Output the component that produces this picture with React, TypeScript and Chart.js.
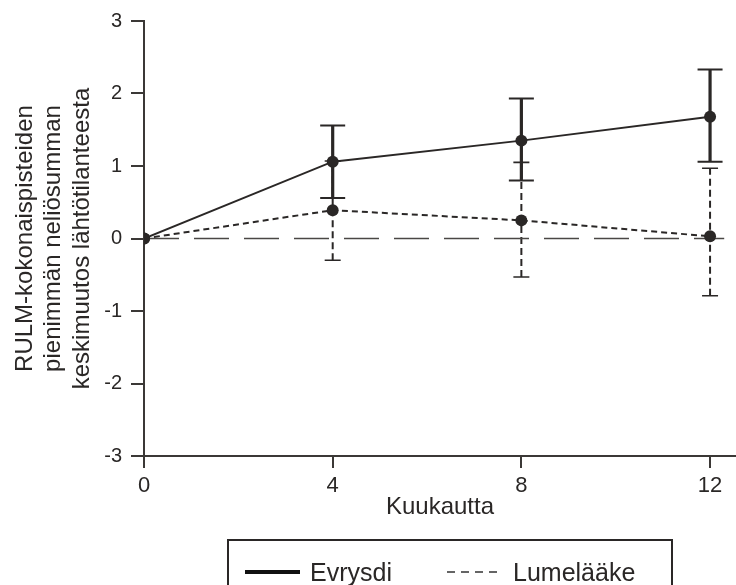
import React, { useEffect, useRef } from "react";
import { Chart, registerables } from "chart.js";

Chart.register(...registerables);

const months = [0, 4, 8, 12];
const evrysdiMean = [0, 1.06, 1.35, 1.68];
const evrysdiLower = [null, 0.56, 0.8, 1.06];
const evrysdiUpper = [null, 1.56, 1.93, 2.33];
const placeboMean = [0, 0.39, 0.25, 0.03];
const placeboLower = [null, -0.3, -0.53, -0.79];
const placeboUpper = [null, 1.07, 1.05, 0.97];
const xTicks = [0, 4, 8, 12];
const baselineX = [0, 12.3];
const baselineY = [0, 0];
const yTitle = ["RULM-kokonaispisteiden", "pienimmän neliösumman", "keskimuutos lähtötilanteesta"];
const xTitle = "Kuukautta";
const seriesNames = ["Evrysdi", "Lumelääke"];

const FONT = "'Liberation Sans', Arial, sans-serif";
const INK = "#2a2726";
const AXIS = "#3b3836";

const errorBarPlugin = {
  id: "errorBars",
  beforeDatasetsDraw(chart: any) {
    const { ctx, scales } = chart;
    const xs = scales.x;
    const ys = scales.y;
    const order = [...chart.data.datasets.keys()].reverse();
    for (const di of order) {
      const ds: any = chart.data.datasets[di];
      if (!ds.errLow) continue;
      ctx.save();
      ctx.strokeStyle = ds.borderColor;
      for (let i = 0; i < ds.data.length; i++) {
        const lo = ds.errLow[i];
        const hi = ds.errHigh[i];
        if (lo == null || hi == null) continue;
        const x = xs.getPixelForValue(ds.data[i].x);
        const yl = ys.getPixelForValue(lo);
        const yh = ys.getPixelForValue(hi);
        ctx.lineWidth = ds.errWidth;
        ctx.setLineDash(ds.errDash || []);
        ctx.beginPath();
        ctx.moveTo(x, yl);
        ctx.lineTo(x, yh);
        ctx.stroke();
        ctx.setLineDash([]);
        ctx.lineWidth = ds.capWidth;
        const hw = ds.capHalf;
        ctx.beginPath();
        ctx.moveTo(x - hw, yl);
        ctx.lineTo(x + hw, yl);
        ctx.moveTo(x - hw, yh);
        ctx.lineTo(x + hw, yh);
        ctx.stroke();
      }
      ctx.restore();
    }
  },
};

export default function App() {
  const ref = useRef<HTMLCanvasElement | null>(null);

  useEffect(() => {
    if (!ref.current) return;
    const chart = new Chart(ref.current, {
      type: "line",
      data: {
        datasets: [
          {
            label: seriesNames[0],
            data: months.map((m, i) => ({ x: m, y: evrysdiMean[i] })),
            borderColor: INK,
            backgroundColor: INK,
            borderWidth: 2,
            pointRadius: 6,
            pointBackgroundColor: INK,
            pointBorderWidth: 0,
            tension: 0,
            errLow: evrysdiLower,
            errHigh: evrysdiUpper,
            errWidth: 3.2,
            capWidth: 2,
            capHalf: 12.5,
          } as any,
          {
            label: seriesNames[1],
            data: months.map((m, i) => ({ x: m, y: placeboMean[i] })),
            borderColor: INK,
            backgroundColor: INK,
            borderWidth: 2,
            borderDash: [6, 4],
            pointRadius: 6,
            pointBackgroundColor: INK,
            pointBorderWidth: 0,
            tension: 0,
            errLow: placeboLower,
            errHigh: placeboUpper,
            errWidth: 2,
            errDash: [7, 4],
            capWidth: 1.6,
            capHalf: 8,
          } as any,
          {
            label: "baseline",
            data: baselineX.map((x, i) => ({ x, y: baselineY[i] })),
            borderColor: "#4a4745",
            borderWidth: 1.6,
            borderDash: [35, 15],
            pointRadius: 0,
          } as any,
        ],
      },
      options: {
        animation: false,
        responsive: false,
        maintainAspectRatio: false,
        layout: { autoPadding: false, padding: { top: 20, right: 0, bottom: 63.6, left: 0 } },
        plugins: {
          legend: { display: false },
          tooltip: { enabled: false },
        },
        scales: {
          x: {
            type: "linear",
            min: 0,
            max: 12.55,
            afterBuildTicks: (s: any) => {
              s.ticks = xTicks.map((v) => ({ value: v }));
            },
            afterFit: (s: any) => {
              s.height = 65.4;
              s.paddingRight = 0;
              s.paddingLeft = 0;
            },
            ticks: {
              font: { size: 22, family: FONT },
              color: INK,
              padding: 5,
              callback: (v: any) => String(v),
            },
            grid: {
              drawOnChartArea: false,
              drawTicks: true,
              tickLength: 12,
              color: AXIS,
              lineWidth: 2,
            },
            border: { display: true, color: AXIS, width: 2 },
            title: {
              display: true,
              text: xTitle,
              font: { size: 24, family: FONT },
              color: INK,
              padding: { top: 0, bottom: 0 },
            },
          },
          y: {
            min: -3,
            max: 3,
            afterFit: (s: any) => {
              s.width = 144;
            },
            ticks: {
              stepSize: 1,
              font: { size: 20, family: FONT },
              color: INK,
              padding: 9,
              callback: (v: any) => String(v),
            },
            grid: {
              drawOnChartArea: false,
              drawTicks: true,
              tickLength: 13,
              color: AXIS,
              lineWidth: 2,
            },
            border: { display: true, color: AXIS, width: 2 },
            title: {
              display: true,
              text: yTitle,
              font: { size: 24, family: FONT, lineHeight: 1.2 },
              color: INK,
              padding: { top: 10.6, bottom: 0 },
            },
          },
        },
      } as any,
      plugins: [errorBarPlugin],
    });
    return () => chart.destroy();
  }, []);

  const textStyle: React.CSSProperties = {
    position: "absolute",
    top: 13,
    fontFamily: FONT,
    fontSize: 25,
    lineHeight: "36px",
    height: 36,
    color: INK,
    whiteSpace: "nowrap",
  };

  return (
    <div
      style={{
        position: "fixed",
        left: 0,
        top: 0,
        width: 736,
        height: 585,
        overflow: "hidden",
        background: "#fff",
      }}
    >
      <canvas ref={ref} width={736} height={585} style={{ display: "block" }} />
      <div
        style={{
          position: "absolute",
          left: 227,
          top: 539,
          width: 446,
          height: 80,
          border: `2px solid ${INK}`,
          boxSizing: "border-box",
        }}
      >
        <div
          style={{
            position: "absolute",
            left: 16,
            top: 29,
            width: 55,
            height: 4,
            background: "#111",
          }}
        />
        <div style={{ ...textStyle, left: 81 }}>{seriesNames[0]}</div>
        <svg
          style={{ position: "absolute", left: 218, top: 29 }}
          width={56}
          height={4}
        >
          <line
            x1={0}
            y1={2}
            x2={56}
            y2={2}
            stroke="#333"
            strokeWidth={1.4}
            strokeDasharray="8 6"
          />
        </svg>
        <div style={{ ...textStyle, left: 284 }}>{seriesNames[1]}</div>
      </div>
    </div>
  );
}
